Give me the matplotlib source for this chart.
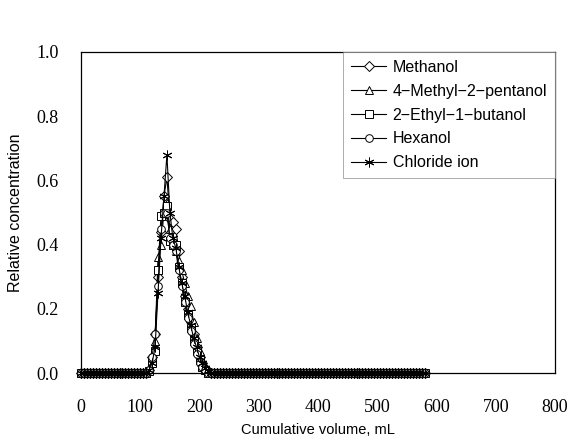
import matplotlib
matplotlib.use("Agg")
import matplotlib.pyplot as plt

volume = list(range(0, 585, 5))  # mL, 0..580

n_pre = 22   # 0..105 mL baseline
methanol_peak = [0.0, 0.01, 0.05, 0.12, 0.30, 0.44, 0.55, 0.61, 0.48, 0.47, 0.45,
                 0.38, 0.30, 0.24, 0.20, 0.16, 0.12, 0.08, 0.05, 0.03, 0.015, 0.005, 0.0]
mp_peak = [0.0, 0.01, 0.04, 0.10, 0.36, 0.40, 0.50, 0.53, 0.45, 0.40, 0.38,
           0.35, 0.32, 0.28, 0.24, 0.21, 0.16, 0.11, 0.07, 0.04, 0.02, 0.01, 0.0]
eb_peak = [0.0, 0.005, 0.03, 0.07, 0.32, 0.49, 0.50, 0.52, 0.41, 0.40, 0.40,
           0.33, 0.28, 0.22, 0.18, 0.14, 0.10, 0.07, 0.04, 0.02, 0.01, 0.0, 0.0]
hex_peak = [0.0, 0.01, 0.05, 0.12, 0.27, 0.45, 0.50, 0.50, 0.42, 0.40, 0.38,
            0.32, 0.27, 0.22, 0.17, 0.13, 0.09, 0.06, 0.03, 0.02, 0.01, 0.0, 0.0]
cl_peak = [0.0, 0.01, 0.03, 0.08, 0.25, 0.42, 0.55, 0.68, 0.50, 0.42, 0.39,
           0.33, 0.28, 0.24, 0.19, 0.15, 0.11, 0.08, 0.05, 0.03, 0.015, 0.005, 0.0]

def full(peak):
    return [0.0] * n_pre + peak + [0.0] * (len(volume) - n_pre - len(peak))

series_names = ["Methanol", "4\u2212Methyl\u22122\u2212pentanol", "2\u2212Ethyl\u22121\u2212butanol",
                "Hexanol", "Chloride ion"]
series_values = [full(methanol_peak), full(mp_peak), full(eb_peak), full(hex_peak), full(cl_peak)]
markers = ["D", "^", "s", "o", (6, 2, 0)]
msizes = [5.5, 6, 5.5, 5.5, 7]

xticks = [0, 100, 200, 300, 400, 500, 600, 700, 800]
yticks = [0.0, 0.2, 0.4, 0.6, 0.8, 1.0]

fig = plt.figure(figsize=(5.69, 4.43), dpi=100)
ax = fig.add_axes([81/569, 70/443, (555-81)/569, (373-52)/443])

for name, vals, m, ms in zip(series_names, series_values, markers, msizes):
    ax.plot(volume, vals, marker=m, markersize=ms, markerfacecolor="white",
            markeredgecolor="black", markeredgewidth=0.7, color="black", linewidth=0.8,
            label=name, clip_on=False)

ax.set_xlim(0, 800)
ax.set_ylim(0, 1.0)
ax.set_xticks(xticks)
ax.set_yticks(yticks)
ax.set_xticklabels([str(t) for t in xticks], fontfamily="Liberation Serif", fontsize=13)
ax.set_yticklabels([f"{t:.1f}" for t in yticks], fontfamily="Liberation Serif", fontsize=13)
ax.tick_params(axis="x", length=0, pad=19)
ax.tick_params(axis="y", length=0, pad=16)
for s in ax.spines.values():
    s.set_linewidth(0.9)

ax.set_xlabel("Cumulative volume, mL", fontfamily="Liberation Sans", fontsize=10.5, labelpad=5)
ax.set_ylabel("Relative concentration", fontfamily="Liberation Sans", fontsize=11.5, labelpad=10)

leg = ax.legend(loc="upper right", prop={"family": "Liberation Sans", "size": 11.5},
                frameon=True, fancybox=False, edgecolor="#888888", borderaxespad=0.0,
                handlelength=2.2, labelspacing=0.55, handletextpad=0.4, borderpad=0.5)
leg.get_frame().set_linewidth(0.6)
fig.savefig("out.png", dpi=100)
